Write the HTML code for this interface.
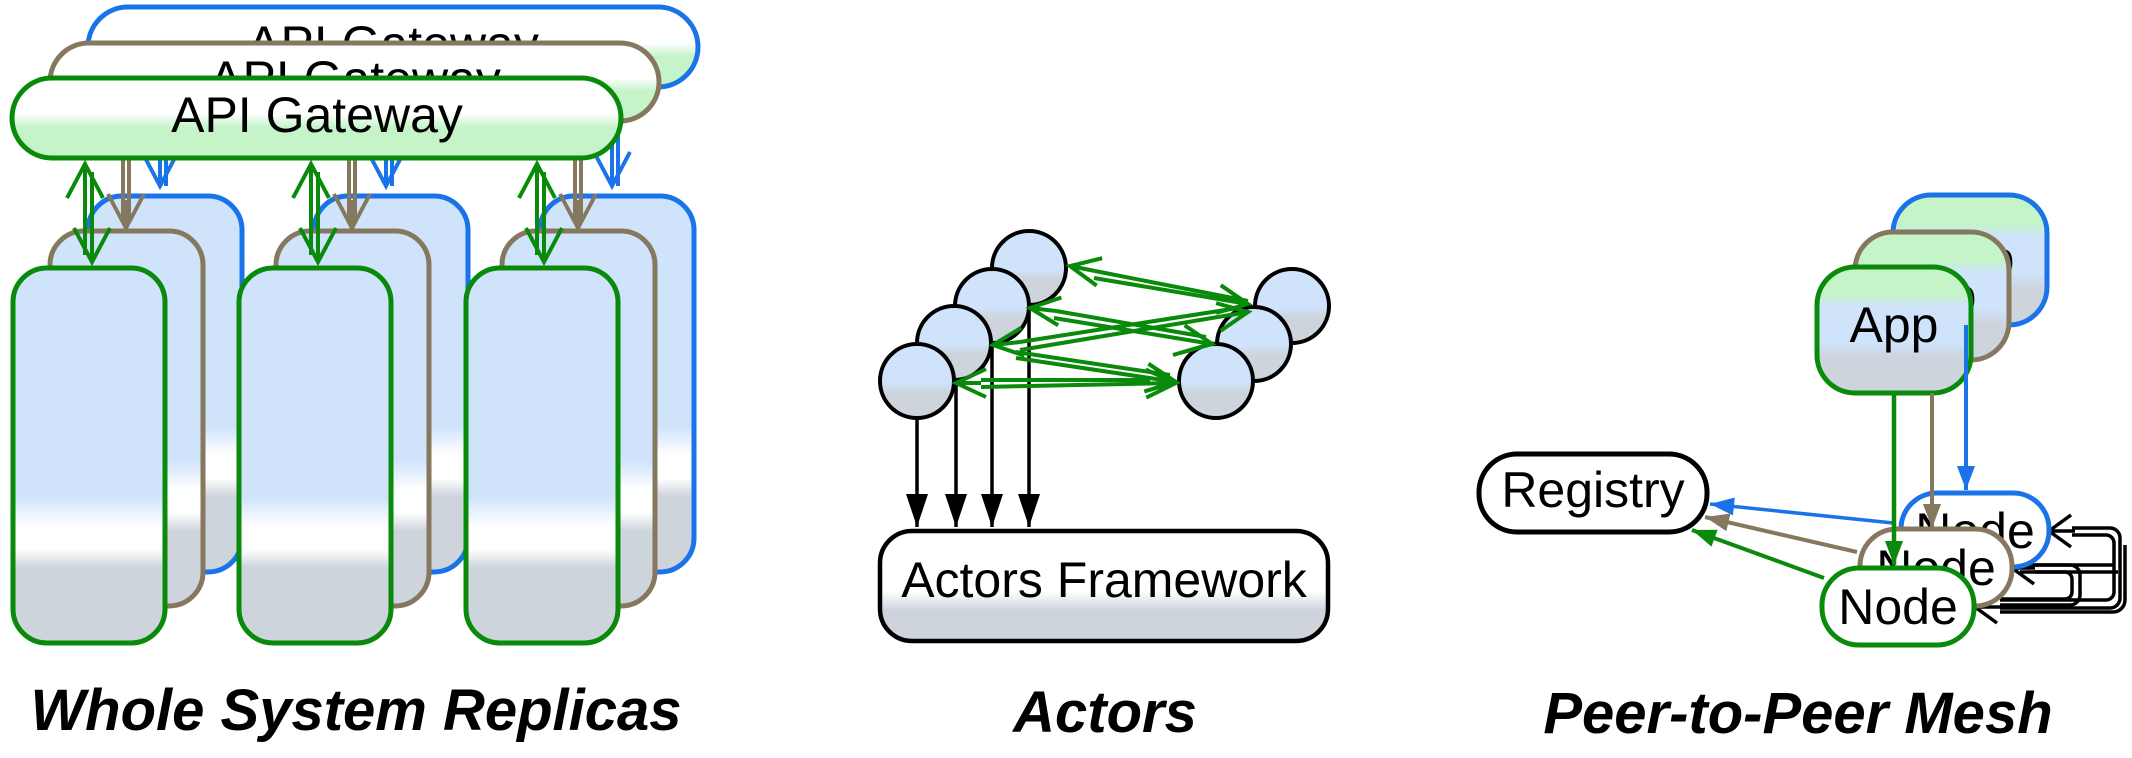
<!DOCTYPE html>
<html><head><meta charset="utf-8"><style>
html,body{margin:0;padding:0;background:#fff;width:2132px;height:758px;overflow:hidden}
svg{display:block}
text{font-family:"Liberation Sans",sans-serif}
</style></head><body>
<svg width="2132" height="758" viewBox="0 0 2132 758" xmlns="http://www.w3.org/2000/svg">
<defs>
<linearGradient id="gw" x1="0" y1="0" x2="0" y2="1">
<stop offset="0" stop-color="#fff"/><stop offset="0.45" stop-color="#fff"/><stop offset="0.62" stop-color="#c4f4c8"/><stop offset="1" stop-color="#c4f4c8"/></linearGradient>
<linearGradient id="tb" x1="0" y1="0" x2="0" y2="1">
<stop offset="0" stop-color="#cfe3fb"/><stop offset="0.61" stop-color="#cfe3fb"/><stop offset="0.69" stop-color="#fff"/><stop offset="0.75" stop-color="#fff"/><stop offset="0.80" stop-color="#cdd4dc"/><stop offset="1" stop-color="#cdd4dc"/></linearGradient>
<linearGradient id="ci" x1="0" y1="0" x2="0" y2="1">
<stop offset="0" stop-color="#cfe3fb"/><stop offset="0.52" stop-color="#cfe3fb"/><stop offset="0.65" stop-color="#cdd4dc"/><stop offset="1" stop-color="#cdd4dc"/></linearGradient>
<linearGradient id="af" x1="0" y1="0" x2="0" y2="1">
<stop offset="0" stop-color="#fff"/><stop offset="0.55" stop-color="#fff"/><stop offset="0.72" stop-color="#cdd4dc"/><stop offset="1" stop-color="#cdd4dc"/></linearGradient>
<linearGradient id="ap" x1="0" y1="0" x2="0" y2="1">
<stop offset="0" stop-color="#c4f4c8"/><stop offset="0.22" stop-color="#c4f4c8"/><stop offset="0.32" stop-color="#cfe3fb"/><stop offset="0.6" stop-color="#cfe3fb"/><stop offset="0.72" stop-color="#cdd4dc"/><stop offset="1" stop-color="#cdd4dc"/></linearGradient>
<marker id="og" markerUnits="userSpaceOnUse" viewBox="-40 -20 44 40" markerWidth="44" markerHeight="40" refX="0" refY="0" orient="auto" overflow="visible"><path d="M-34,-18 L0,0 L-34,18" fill="none" stroke="#0a8a0a" stroke-width="4"/></marker>
<marker id="ob" markerUnits="userSpaceOnUse" viewBox="-40 -20 44 40" markerWidth="44" markerHeight="40" refX="0" refY="0" orient="auto" overflow="visible"><path d="M-34,-18 L0,0 L-34,18" fill="none" stroke="#86785f" stroke-width="4"/></marker>
<marker id="obl" markerUnits="userSpaceOnUse" viewBox="-40 -20 44 40" markerWidth="44" markerHeight="40" refX="0" refY="0" orient="auto" overflow="visible"><path d="M-34,-18 L0,0 L-34,18" fill="none" stroke="#1a73e8" stroke-width="4"/></marker>
<marker id="oa" markerUnits="userSpaceOnUse" viewBox="-40 -20 44 40" markerWidth="44" markerHeight="40" refX="0" refY="0" orient="auto" overflow="visible"><path d="M-30,-14 L0,0 L-30,14" fill="none" stroke="#0a8a0a" stroke-width="4"/></marker>
<marker id="ok" markerUnits="userSpaceOnUse" viewBox="-40 -20 44 40" markerWidth="44" markerHeight="40" refX="0" refY="0" orient="auto" overflow="visible"><path d="M-22,-16 L0,0 L-22,16" fill="none" stroke="#000" stroke-width="3.5"/></marker>
<marker id="fk" markerUnits="userSpaceOnUse" viewBox="-40 -20 44 40" markerWidth="44" markerHeight="40" refX="0" refY="0" orient="auto" overflow="visible"><path d="M-33,-11 L0,0 L-33,11Z" fill="#000"/></marker>
<marker id="fg" markerUnits="userSpaceOnUse" viewBox="-40 -20 44 40" markerWidth="44" markerHeight="40" refX="0" refY="0" orient="auto" overflow="visible"><path d="M-24,-9 L0,0 L-24,9Z" fill="#0a8a0a"/></marker>
<marker id="fb" markerUnits="userSpaceOnUse" viewBox="-40 -20 44 40" markerWidth="44" markerHeight="40" refX="0" refY="0" orient="auto" overflow="visible"><path d="M-24,-9 L0,0 L-24,9Z" fill="#86785f"/></marker>
<marker id="fl" markerUnits="userSpaceOnUse" viewBox="-40 -20 44 40" markerWidth="44" markerHeight="40" refX="0" refY="0" orient="auto" overflow="visible"><path d="M-24,-9 L0,0 L-24,9Z" fill="#1a73e8"/></marker>
</defs>

<!-- LEFT PANEL -->
<rect x="88" y="7" width="610" height="80" rx="40" fill="url(#gw)" stroke="#1a73e8" stroke-width="5"/>
<text x="393" y="61" font-size="50" text-anchor="middle">API Gateway</text>
<g stroke="#1a73e8" stroke-width="4" fill="none">
<line x1="160" y1="90" x2="160" y2="186" marker-end="url(#obl)"/><line x1="166" y1="90" x2="166" y2="186"/>
<line x1="386" y1="90" x2="386" y2="186" marker-end="url(#obl)"/><line x1="392" y1="90" x2="392" y2="186"/>
<line x1="612" y1="90" x2="612" y2="186" marker-end="url(#obl)"/><line x1="618" y1="90" x2="618" y2="186"/>
</g>
<g fill="url(#tb)" stroke="#1a73e8" stroke-width="5">
<rect x="88" y="196" width="154" height="376" rx="34"/>
<rect x="314" y="196" width="154" height="376" rx="34"/>
<rect x="540" y="196" width="154" height="376" rx="34"/>
</g>
<rect x="50" y="43" width="609" height="78" rx="39" fill="url(#gw)" stroke="#86785f" stroke-width="5"/>
<text x="355" y="96" font-size="50" text-anchor="middle">API Gateway</text>
<g stroke="#86785f" stroke-width="4" fill="none">
<line x1="123" y1="124" x2="123" y2="222"/><line x1="129" y1="124" x2="129" y2="222"/>
<line x1="126" y1="200" x2="126" y2="228" marker-end="url(#ob)"/>
<line x1="349" y1="124" x2="349" y2="222"/><line x1="355" y1="124" x2="355" y2="222"/>
<line x1="352" y1="200" x2="352" y2="228" marker-end="url(#ob)"/>
<line x1="575" y1="124" x2="575" y2="222"/><line x1="581" y1="124" x2="581" y2="222"/>
<line x1="578" y1="200" x2="578" y2="228" marker-end="url(#ob)"/>
</g>
<g fill="url(#tb)" stroke="#86785f" stroke-width="5">
<rect x="50" y="231" width="153" height="375" rx="34"/>
<rect x="276" y="231" width="153" height="375" rx="34"/>
<rect x="502" y="231" width="153" height="375" rx="34"/>
</g>
<rect x="12" y="78" width="609" height="80" rx="40" fill="url(#gw)" stroke="#0a8a0a" stroke-width="5"/>
<text x="317" y="132" font-size="50" text-anchor="middle">API Gateway</text>
<g stroke="#0a8a0a" stroke-width="4" fill="none">
<line x1="85" y1="255" x2="85" y2="164" marker-end="url(#og)"/><line x1="92" y1="172" x2="92" y2="262" marker-end="url(#og)"/>
<line x1="311" y1="255" x2="311" y2="164" marker-end="url(#og)"/><line x1="318" y1="172" x2="318" y2="262" marker-end="url(#og)"/>
<line x1="537" y1="255" x2="537" y2="164" marker-end="url(#og)"/><line x1="544" y1="172" x2="544" y2="262" marker-end="url(#og)"/>
</g>
<g fill="url(#tb)" stroke="#0a8a0a" stroke-width="5">
<rect x="13" y="268" width="152" height="375" rx="34"/>
<rect x="239" y="268" width="152" height="375" rx="34"/>
<rect x="466" y="268" width="152" height="375" rx="34"/>
</g>
<text x="356" y="730" font-size="58" font-weight="bold" font-style="italic" text-anchor="middle">Whole System Replicas</text>

<!-- MIDDLE PANEL -->
<g stroke="#000" stroke-width="3.5">
<line x1="917" y1="415" x2="917" y2="527" marker-end="url(#fk)"/>
<line x1="956" y1="380" x2="956" y2="527" marker-end="url(#fk)"/>
<line x1="992" y1="342" x2="992" y2="527" marker-end="url(#fk)"/>
<line x1="1029" y1="305" x2="1029" y2="527" marker-end="url(#fk)"/>
</g>
<rect x="880" y="531" width="448" height="110" rx="32" fill="url(#af)" stroke="#000" stroke-width="4.5"/>
<text x="1104" y="597" font-size="50" text-anchor="middle">Actors Framework</text>
<g fill="url(#ci)" stroke="#000" stroke-width="4">
<circle cx="1029" cy="268" r="37"/>
<circle cx="992" cy="306" r="37"/>
<circle cx="954" cy="343" r="37"/>
<circle cx="917" cy="381" r="37"/>
<circle cx="1292" cy="306" r="37"/>
<circle cx="1254" cy="344" r="37"/>
<circle cx="1216" cy="381" r="37"/>
</g>
<g stroke="#0a8a0a" stroke-width="4" fill="none">
<line x1="1095" y1="271" x2="1070" y2="266" marker-end="url(#oa)"/>
<line x1="1095" y1="271" x2="1248" y2="301"/>
<line x1="1094" y1="278" x2="1248" y2="304" marker-end="url(#oa)"/>
<line x1="1056" y1="311" x2="1030" y2="308" marker-end="url(#oa)"/>
<line x1="1056" y1="311" x2="1206" y2="337"/>
<line x1="1054" y1="318" x2="1212" y2="344" marker-end="url(#oa)"/>
<line x1="1020" y1="342" x2="993" y2="345" marker-end="url(#oa)"/>
<line x1="1020" y1="342" x2="1238" y2="308"/>
<line x1="1020" y1="350" x2="1248" y2="312" marker-end="url(#oa)"/>
<line x1="1016" y1="352" x2="1170" y2="375"/>
<line x1="1016" y1="358" x2="1176" y2="382" marker-end="url(#oa)"/>
<line x1="1173" y1="355" x2="1214" y2="343"/>
<line x1="981" y1="383" x2="956" y2="383" marker-end="url(#oa)"/>
<line x1="981" y1="380" x2="1150" y2="380"/>
<line x1="981" y1="387" x2="1176" y2="383" marker-end="url(#oa)"/>
</g>
<text x="1105" y="732" font-size="58" font-weight="bold" font-style="italic" text-anchor="middle">Actors</text>

<!-- RIGHT PANEL -->
<rect x="1893" y="195" width="154" height="130" rx="38" fill="url(#ap)" stroke="#1a73e8" stroke-width="5"/>
<text x="1970" y="276" font-size="50" text-anchor="middle">App</text>
<rect x="1855" y="232" width="154" height="128" rx="38" fill="url(#ap)" stroke="#86785f" stroke-width="5"/>
<text x="1932" y="313" font-size="50" text-anchor="middle">App</text>
<rect x="1817" y="267" width="154" height="126" rx="38" fill="url(#ap)" stroke="#0a8a0a" stroke-width="5"/>
<text x="1894" y="342" font-size="50" text-anchor="middle">App</text>

<line x1="1966" y1="325" x2="1966" y2="490" stroke="#1a73e8" stroke-width="4" marker-end="url(#fl)"/>
<rect x="1479" y="454" width="228" height="78" rx="38" fill="#fff" stroke="#000" stroke-width="5"/>
<text x="1593" y="507" font-size="50" text-anchor="middle">Registry</text>

<!-- self loops -->
<g stroke="#000" stroke-width="3.5" fill="none">
<path d="M2072,528 H2110 a10,10 0 0 1 10,10 V598 a10,10 0 0 1 -10,10 H2000"/>
<path d="M2072,535 H2106 a8,8 0 0 1 8,8 V592 a8,8 0 0 1 -8,8 H2000"/>
<path d="M2125,545 V600 a12,12 0 0 1 -12,12 H2000"/>
<path d="M2035,565 H2070 a10,10 0 0 1 10,10 V595 a10,10 0 0 1 -10,10 H2000"/>
<path d="M2035,572 H2065 a7,7 0 0 1 7,7 V592 a7,7 0 0 1 -7,7 H2000"/>
<path d="M2020,565 H2115"/><path d="M2020,572 H2118"/>
<line x1="2075" y1="531" x2="2049" y2="531" marker-end="url(#ok)"/>
<line x1="2035" y1="568" x2="2012" y2="568" marker-end="url(#ok)"/>
<line x1="2000" y1="607" x2="1975" y2="607" marker-end="url(#ok)"/>
</g>
<rect x="1901" y="493" width="148" height="74" rx="36" fill="#fff" stroke="#1a73e8" stroke-width="5"/>
<text x="1975" y="548" font-size="50" text-anchor="middle">Node</text>
<line x1="1893" y1="523" x2="1710" y2="504" stroke="#1a73e8" stroke-width="3.5" marker-end="url(#fl)"/>
<rect x="1860" y="529" width="152" height="77" rx="37" fill="#fff" stroke="#86785f" stroke-width="5"/>
<text x="1936" y="585" font-size="50" text-anchor="middle">Node</text>
<line x1="1857" y1="552" x2="1705" y2="517" stroke="#86785f" stroke-width="4" marker-end="url(#fb)"/>
<line x1="1932" y1="393" x2="1932" y2="528" stroke="#86785f" stroke-width="4" marker-end="url(#fb)"/>
<rect x="1822" y="568" width="152" height="77" rx="37" fill="#fff" stroke="#0a8a0a" stroke-width="5"/>
<text x="1898" y="624" font-size="50" text-anchor="middle">Node</text>
<line x1="1824" y1="578" x2="1692" y2="530" stroke="#0a8a0a" stroke-width="4" marker-end="url(#fg)"/>
<line x1="1894" y1="395" x2="1894" y2="565" stroke="#0a8a0a" stroke-width="4.5" marker-end="url(#fg)"/>
<text x="1798" y="733" font-size="58" font-weight="bold" font-style="italic" text-anchor="middle">Peer-to-Peer Mesh</text>
</svg>
</body></html>
